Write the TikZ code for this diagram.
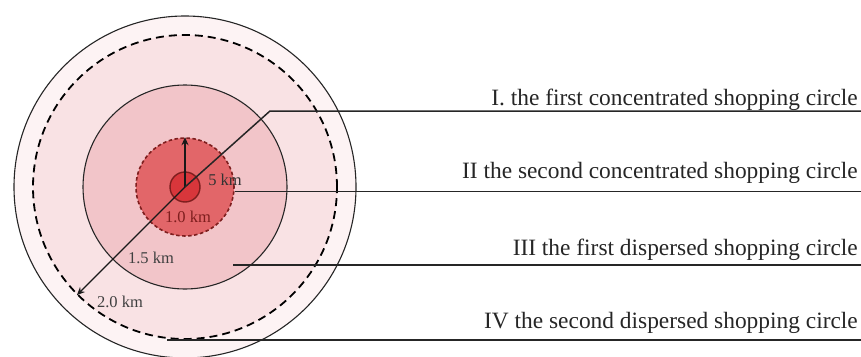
\documentclass[tikz,border=0pt]{standalone}
\usepackage{fontspec}
\setmainfont{Liberation Serif}
\usetikzlibrary{arrows.meta}
\definecolor{ringout}{HTML}{FDF3F4}
\definecolor{ringtwo}{HTML}{F9E2E4}
\definecolor{ringone}{HTML}{F2C5C9}
\definecolor{coreten}{HTML}{E26669}
\definecolor{corefive}{HTML}{D8363B}
\definecolor{darkred}{HTML}{7E1E1E}
\definecolor{txt}{HTML}{262626}
\tikzset{
  ring/.style={circle, inner sep=0pt, draw=black!85, line width=1.1pt},
  leader/.style={draw=black!85, line width=1.5pt},
  radarrow/.style={draw=black!90, line width=1.4pt, -{Stealth[length=8pt,width=7pt]}},
  lbl/.style={anchor=base east, font=\fontsize{23.4}{26}\selectfont, text=txt, inner sep=0pt},
  km/.style={font=\fontsize{16.5}{18}\selectfont, inner sep=0pt}
}
\begin{document}
\begin{tikzpicture}[x=1pt,y=-1pt]
\useasboundingbox (0,0) rectangle (861,356);
\fill[white] (0,0) rectangle (861,356);
\coordinate (c) at (185,187);
% rings
\node[ring, fill=ringout, minimum size=342pt] (outer) at (c) {};
\node[ring, fill=ringtwo, draw=black, dash pattern=on 8pt off 5pt, line width=1.8pt, minimum size=304pt] (two) at (c) {};
\node[ring, fill=ringone, minimum size=204pt] (onefive) at (c) {};
\node[ring, fill=coreten, draw=darkred, dash pattern=on 3.5pt off 2.5pt, line width=1.6pt, minimum size=98pt] (ten) at (c) {};
\node[ring, fill=corefive, draw=darkred, line width=1.4pt, minimum size=30pt] (five) at (c) {};
% radius arrows
\draw[radarrow] (c) -- (ten.north);
\draw[radarrow] (c) -- (two.225);
% leaders
\coordinate (k1) at (270,111);
\coordinate (e1) at (861,111);
\coordinate (e2) at (861,191);
\coordinate (s3) at (233,265);
\coordinate (e3) at (861,265);
\coordinate (s4) at (167,340);
\coordinate (e4) at (861,340);
\draw[leader] (c) -- (k1) -- (e1);
\draw[leader] (ten.-5) -- (ten.-5 -| e2);
\draw[leader] (s3) -- (e3);
\draw[leader] (s4) -- (e4);
% labels
\node[lbl] (l1) at (858,105) {I. the first concentrated shopping circle};
\node[lbl] (l2) at (858,178) {II the second concentrated shopping circle};
\node[lbl] (l3) at (858,255) {III the first dispersed shopping circle};
\node[lbl] (l4) at (858,328) {IV the second dispersed shopping circle};
\node[km, text=black!80] (k05) at (225,180) {5 km};
\node[km, text=darkred] (k10) at (188,217) {1.0 km};
\node[km, text=black!75] (k15) at (151,258) {1.5 km};
\node[km, text=black!75] (k20) at (120,302) {2.0 km};
\end{tikzpicture}
\end{document}
